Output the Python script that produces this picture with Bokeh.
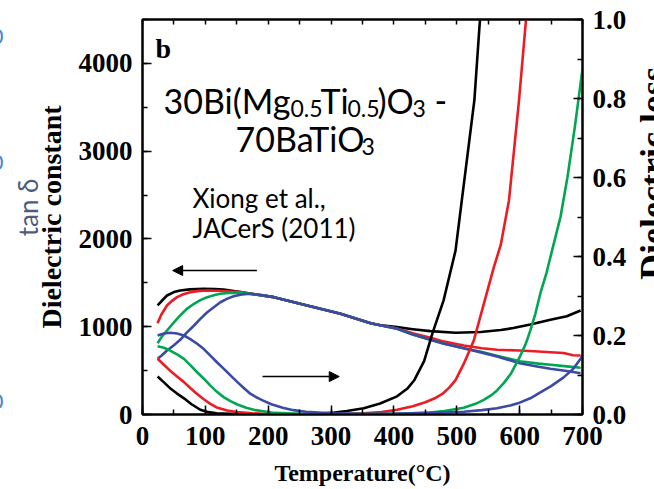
import math
from bokeh.plotting import figure
from bokeh.models import (LinearAxis, Range1d, SingleIntervalTicker, FixedTicker, PrintfTickFormatter,
                          Label, Arrow, NormalHead)
from bokeh.core.properties import value
from bokeh.embed import file_html
from bokeh.resources import INLINE

# ---------------- data ----------------
x_ticks_interval = 100
x_minor_interval = 50
eps_ticks_interval = 1000
loss_ticks_interval = 0.2

# dielectric constant (left axis)
T_eps_black = [24, 30, 39, 50, 60, 75, 97, 115, 129, 156, 180, 209, 262, 315, 363, 380, 405, 430, 458, 498, 538, 570, 590, 617, 649, 675, 697]
eps_black = [1242, 1290, 1356, 1395, 1413, 1425, 1432, 1430, 1424, 1394, 1368, 1337, 1242, 1147, 1040, 1015, 995, 972, 950, 931, 940, 962, 985, 1025, 1079, 1120, 1185]

T_eps_red = [24, 30, 39, 47, 55, 65, 76, 90, 103, 120, 140, 156, 180, 209, 262, 315, 363, 405, 430, 458, 480, 511, 540, 564, 600, 630, 649, 670, 685, 697]
eps_red = [1040, 1140, 1242, 1295, 1337, 1370, 1394, 1408, 1413, 1410, 1400, 1394, 1368, 1337, 1242, 1147, 1040, 980, 925, 874, 830, 786, 755, 737, 729, 718, 710, 700, 675, 672]

T_eps_green = [24, 30, 39, 50, 60, 70, 82, 92, 103, 115, 124, 138, 151, 165, 180, 209, 262, 315, 363, 405, 430, 458, 480, 511, 540, 564, 600, 630, 649, 675, 697]
eps_green = [812, 880, 957, 1050, 1128, 1200, 1261, 1303, 1337, 1362, 1375, 1385, 1388, 1380, 1368, 1337, 1242, 1147, 1040, 976, 912, 851, 805, 755, 712, 670, 607, 580, 566, 548, 532]

T_eps_blue = [24, 30, 39, 50, 60, 70, 82, 92, 103, 115, 124, 135, 145, 158, 172, 190, 209, 262, 315, 363, 405, 430, 458, 480, 511, 540, 564, 600, 630, 649, 675, 697]
eps_blue = [634, 670, 729, 790, 851, 930, 1014, 1090, 1165, 1230, 1279, 1320, 1348, 1368, 1375, 1360, 1337, 1242, 1147, 1040, 976, 912, 851, 805, 755, 705, 662, 584, 545, 521, 495, 470]

# dielectric loss (right axis)
T_loss_black = [24, 35, 45, 55, 66, 78, 92, 105, 118, 150, 200, 250, 275, 300, 325, 352, 378, 405, 421, 432, 448, 461, 479, 498, 508, 518, 528, 536, 540]
loss_black = [0.096, 0.080, 0.065, 0.053, 0.041, 0.026, 0.012, 0.006, 0.003, 0.001, 0.000, 0.001, 0.002, 0.004, 0.009, 0.016, 0.028, 0.046, 0.065, 0.086, 0.135, 0.204, 0.289, 0.415, 0.542, 0.669, 0.796, 0.98, 1.06]

T_loss_red = [24, 34, 44, 55, 66, 76, 87, 98, 108, 118, 135, 150, 175, 200, 250, 300, 352, 380, 405, 430, 450, 465, 477, 488, 498, 511, 527, 543, 559, 570, 583, 591, 599, 610, 613]
loss_red = [0.141, 0.126, 0.111, 0.096, 0.082, 0.067, 0.052, 0.038, 0.027, 0.018, 0.010, 0.006, 0.003, 0.001, 0.000, 0.000, 0.003, 0.006, 0.012, 0.021, 0.031, 0.041, 0.052, 0.068, 0.087, 0.128, 0.187, 0.280, 0.373, 0.430, 0.542, 0.668, 0.795, 0.997, 1.06]

T_loss_green = [24, 34, 44, 55, 66, 76, 87, 98, 108, 118, 129, 140, 150, 165, 180, 192, 210, 250, 300, 350, 400, 450, 480, 511, 530, 543, 555, 564, 575, 586, 600, 610, 617, 625, 633, 643, 652, 665, 676, 688, 700]
loss_green = [0.173, 0.169, 0.162, 0.152, 0.141, 0.125, 0.107, 0.090, 0.073, 0.058, 0.044, 0.034, 0.026, 0.017, 0.011, 0.008, 0.004, 0.002, 0.001, 0.001, 0.002, 0.004, 0.009, 0.017, 0.027, 0.037, 0.049, 0.061, 0.080, 0.103, 0.145, 0.180, 0.213, 0.255, 0.307, 0.360, 0.418, 0.500, 0.600, 0.730, 0.875]

T_loss_blue = [24, 34, 44, 55, 66, 76, 87, 98, 108, 118, 129, 140, 151, 162, 172, 183, 192, 205, 223, 240, 260, 300, 350, 400, 458, 511, 540, 564, 585, 600, 617, 633, 650, 670, 685, 697, 700]
loss_blue = [0.200, 0.205, 0.207, 0.205, 0.200, 0.191, 0.179, 0.165, 0.149, 0.133, 0.116, 0.099, 0.082, 0.066, 0.052, 0.042, 0.035, 0.026, 0.017, 0.011, 0.007, 0.003, 0.002, 0.002, 0.004, 0.007, 0.011, 0.016, 0.023, 0.030, 0.041, 0.056, 0.072, 0.094, 0.115, 0.141, 0.150]

colors = {"black": "#000000", "red": "#ed1c24", "green": "#00a651", "blue": "#3a4aa5"}

# ---------------- figure ----------------
FL, FR, FT, FB = 142, 582, 19, 414   # frame edges in px (layout only)

p = figure(width=654, height=489, x_range=Range1d(0, 700), y_range=Range1d(0, 4500),
           output_backend="svg", toolbar_location=None,
           min_border_left=FL, min_border_right=654 - FR, min_border_top=FT, min_border_bottom=489 - FB)
p.extra_y_ranges = {"loss": Range1d(0, 1.0)}
p.grid.visible = False
p.outline_line_color = "black"
p.outline_line_width = 2
p.background_fill_color = "white"
p.border_fill_color = "white"

SERIF = "Liberation Serif"

def style_axis(ax):
    ax.axis_line_width = 2
    ax.axis_line_color = "black"
    ax.major_tick_in = 9
    ax.major_tick_out = 0
    ax.minor_tick_in = 5
    ax.minor_tick_out = 0
    ax.major_tick_line_width = 1.5
    ax.minor_tick_line_width = 1.5
    ax.major_tick_line_color = "black"
    ax.minor_tick_line_color = "black"
    ax.major_label_text_font = SERIF
    ax.major_label_text_font_style = "bold"
    ax.major_label_text_color = "black"
    ax.major_label_text_font_size = "27px"
    ax.axis_label_text_font = SERIF
    ax.axis_label_text_font_style = "bold"
    ax.axis_label_text_color = "black"

xax = p.xaxis[0]
xax.ticker = SingleIntervalTicker(interval=x_ticks_interval, num_minor_ticks=2)
style_axis(xax)
xax.major_label_standoff = 12
xax.axis_label = "Temperature(°C)"
xax.axis_label_text_font_size = "24px"
xax.axis_label_standoff = 12

yax = p.yaxis[0]
yax.ticker = SingleIntervalTicker(interval=eps_ticks_interval, num_minor_ticks=2)
style_axis(yax)
yax.major_label_standoff = 10
yax.axis_label = "Dielectric constant"
yax.axis_label_text_font_size = "28px"
yax.axis_label_standoff = 9

# top frame: tick marks only
top_minor = list(range(0, 701, x_minor_interval))
top = LinearAxis(ticker=FixedTicker(ticks=[], minor_ticks=top_minor))
style_axis(top)
top.major_label_standoff = 0
p.add_layout(top, "above")

right = LinearAxis(y_range_name="loss", ticker=SingleIntervalTicker(interval=loss_ticks_interval, num_minor_ticks=2),
                   formatter=PrintfTickFormatter(format="%.1f"))
style_axis(right)
right.major_label_standoff = 10
p.add_layout(right, "right")

# ---------------- curves ----------------
LW = 2.6
p.line(T_eps_black, eps_black, line_color=colors["black"], line_width=LW, line_join="round")
p.line(T_eps_red, eps_red, line_color=colors["red"], line_width=LW, line_join="round")
p.line(T_eps_green, eps_green, line_color=colors["green"], line_width=LW, line_join="round")
p.line(T_eps_blue, eps_blue, line_color=colors["blue"], line_width=LW, line_join="round")

p.line(T_loss_black, loss_black, y_range_name="loss", line_color=colors["black"], line_width=LW, line_join="round")
p.line(T_loss_red, loss_red, y_range_name="loss", line_color=colors["red"], line_width=LW, line_join="round")
p.line(T_loss_green, loss_green, y_range_name="loss", line_color=colors["green"], line_width=LW, line_join="round")
p.line(T_loss_blue, loss_blue, y_range_name="loss", line_color=colors["blue"], line_width=LW, line_join="round")

# arrows (pointing to the axis each set of curves belongs to)
p.add_layout(Arrow(end=NormalHead(size=10, fill_color="black", line_color="black", line_width=1),
                   x_start=182, y_start=1640, x_end=48, y_end=1640,
                   line_color="black", line_width=1.5))
p.add_layout(Arrow(end=NormalHead(size=10, fill_color="black", line_color="black", line_width=1),
                   x_start=191, y_start=0.096, x_end=313, y_end=0.096, y_range_name="loss",
                   line_color="black", line_width=1.5))

# ---------------- text annotations (placed by pixel position) ----------------
def tx(px):
    return (px - FL) / (FR - FL) * 700

def ty(py):
    return (FB - py) / (FB - FT) * 4500

def lab(text, px, py, size, font="Lato", style="normal", color="black", align="left"):
    p.add_layout(Label(x=tx(px), y=ty(py), text=text, text_font=font, text_font_size=f"{size}px",
                       text_font_style=style, text_color=color,
                       text_align=align, text_baseline="alphabetic"))

lab("b", 155, 48, 28, font=SERIF, style="bold")

MAIN, SUB = 34, 23
lab("30Bi(Mg", 163, 100, MAIN)
lab("0.5", 290, 108, SUB)
lab("Ti", 320, 100, MAIN)
lab("0.5", 347, 108, SUB)
lab(")O", 377, 100, MAIN)
lab("3", 412, 108, SUB)
lab("-", 434, 100, MAIN)
lab("70BaTiO", 235, 138, MAIN)
lab("3", 361, 146, SUB)

lab("Xiong et al.,", 192, 197, 26)
lab("JACerS (2011)", 192, 227, 26)

# texts outside the plotting frame (drawn unclipped, overlay level)
def outside(text, px, py, size, font, style, color, angle, align, baseline):
    p.text(x=[tx(px)], y=[ty(py)], text=[text], text_font=value(font), text_font_size=f"{size}px",
           text_font_style=style, text_color=color, angle=angle, text_align=align,
           text_baseline=baseline, level="overlay")

# right-hand axis title (partly cut by the window edge)
outside("Dielectric loss", 652, 173, 36, SERIF, "bold", "black", math.pi / 2, "center", "middle")
# text of the neighbouring panel at the far left
outside("tan δ", 27, 207, 26, "Lato", "normal", "#4b5d7e", math.pi / 2, "center", "middle")
for yy in (36, 162, 401):
    outside("0", 3, yy, 22, "Lato", "normal", "#4a86c8", 0.0, "right", "middle")

open("out.html", "w").write(file_html(p, INLINE))
